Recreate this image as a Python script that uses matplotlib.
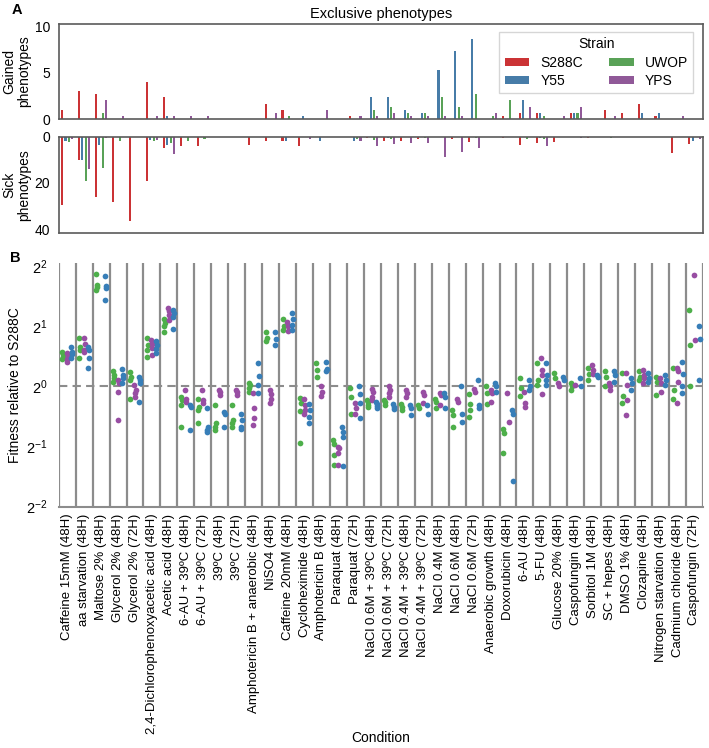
import matplotlib
matplotlib.use('Agg')
import matplotlib.pyplot as plt
import numpy as np
import seaborn as sns

plt.rcParams['font.family'] = ['Liberation Sans', 'DejaVu Sans']
plt.rcParams['font.size'] = 9.5

# Conditions (shared x axis for both panels)
conditions = ['Caffeine 15mM (48H)', 'aa starvation (48H)', 'Maltose 2% (48H)', 'Glycerol 2% (48H)',
              'Glycerol 2% (72H)', '2,4-Dichlorophenoxyacetic acid (48H)', 'Acetic acid (48H)',
              '6-AU + 39ºC (48H)', '6-AU + 39ºC (72H)', '39ºC (48H)', '39ºC (72H)',
              'Amphotericin B + anaerobic (48H)', 'NiSO4 (48H)', 'Caffeine 20mM (48H)',
              'Cycloheximide (48H)', 'Amphotericin B (48H)', 'Paraquat (48H)', 'Paraquat (72H)',
              'NaCl 0.6M + 39ºC (48H)', 'NaCl 0.6M + 39ºC (72H)', 'NaCl 0.4M + 39ºC (48H)',
              'NaCl 0.4M + 39ºC (72H)', 'NaCl 0.4M (48H)', 'NaCl 0.6M (48H)', 'NaCl 0.6M (72H)',
              'Anaerobic growth (48H)', 'Doxorubicin (48H)', '6-AU (48H)', '5-FU (48H)',
              'Glucose 20% (48H)', 'Caspofungin (48H)', 'Sorbitol 1M (48H)', 'SC + hepes (48H)',
              'DMSO 1% (48H)', 'Clozapine (48H)', 'Nitrogen starvation (48H)',
              'Cadmium chloride (48H)', 'Caspofungin (72H)']
strains = ['S288C', 'Y55', 'UWOP', 'YPS']

# Panel A: exclusive phenotypes per condition
gained_s288c = [1, 3, 2.67, 0, 0, 4, 2.33, 0, 0, 0, 0, 0, 1.67, 1, 0, 0, 0, 0.33, 0, 0,
                0, 0, 0, 0, 0, 0, 0.33, 0.67, 0.67, 0, 0.67, 0, 1, 0.67, 1.67, 0.33, 0, 0]
gained_y55 = [0, 0, 0, 0, 0, 0, 0.33, 0, 0, 0, 0, 0, 0, 0, 0.33, 0, 0, 0, 2.33, 2.33,
              1, 0.67, 5.33, 7.33, 8.67, 0, 0, 2, 0.67, 0, 0.67, 0, 0, 0, 0.67, 0.67, 0, 0]
gained_uwop = [0, 0, 0.67, 0, 0, 0, 0, 0, 0, 0, 0, 0, 0, 0.33, 0, 0, 0, 0, 1, 1.33,
               0.67, 0.67, 2.33, 1.33, 2.67, 0.33, 2, 0, 0.33, 0, 0.67, 0, 0, 0, 0, 0, 0, 0]
gained_yps = [0, 0, 2, 0.33, 0, 0.33, 0.33, 0.33, 0.33, 0, 0, 0, 0.67, 0, 0, 1, 0, 0.33, 0.33, 0.67,
              0.33, 0.33, 0.33, 0.33, 0, 0.67, 0, 1.33, 0, 0.33, 1.33, 0, 0.33, 0, 0, 0, 0.33, 0]

sick_s288c = [29.33, 10, 26, 28.33, 36.33, 19, 5, 4, 4, 0, 0, 3.67, 2, 1.67, 4, 0, 0, 0, 0.67, 2,
              1.67, 1, 0.33, 1, 2.33, 0, 0.67, 3.67, 2.67, 2.33, 0, 0.67, 0, 0, 0, 0, 7, 3]
sick_y55 = [2, 10, 3.67, 0.33, 0, 1.33, 3.67, 0, 0, 0.33, 0, 0, 0.33, 2, 0, 2, 0.33, 1.67, 0, 0.67,
            0, 0, 0, 0, 0, 0, 0, 0, 0.67, 0, 0, 0, 0, 0, 0.33, 0, 0, 2]
sick_uwop = [2.33, 19, 13.67, 2, 0.33, 1.67, 2.67, 1.67, 1, 0, 0.33, 0, 0.33, 0, 0, 0.33, 0, 1, 1.33, 1,
             0, 0.67, 0, 0.33, 0.67, 0, 0, 1, 1, 0, 0, 0, 0.67, 0, 0, 0, 0, 0]
sick_yps = [1, 14, 0.67, 0, 0, 1.33, 7.33, 0, 0, 0, 0.33, 0, 0.33, 0.33, 1, 0, 0.33, 2, 4, 3,
            2.67, 2.67, 8.67, 6.67, 5, 0.33, 0, 0, 4, 0, 0.67, 0.33, 0, 0, 0, 0, 0, 1]

# Panel B: log2 fitness relative to S288C (replicates per condition)
fit_uwop = [[0.58, 0.54, 0.49, 0.45], [0.80, 0.66, 0.61, 0.48], [1.88, 1.69, 1.65, 1.61],
            [0.25, 0.19, 0.14, 0.08], [0.24, 0.16, 0.11, -0.20], [0.81, 0.69, 0.61, 0.49],
            [1.13, 1.05, 1.0, 0.91], [-0.17, -0.22, -0.31, -0.67], [-0.20, -0.34, -0.39, -0.60],
            [-0.31, -0.61, -0.67, -0.72], [-0.31, -0.55, -0.61, -0.67], [0.06, 0.02, -0.03, -0.09],
            [0.90, 0.80, 0.75], [1.13, 1.0, 0.94], [-0.19, -0.28, -0.40, -0.94], [0.39, 0.27, 0.15],
            [-0.89, -0.96, -1.14, -1.31], [-0.03, -0.17, -0.45], [-0.22, -0.26, -0.30, -0.34],
            [-0.22, -0.26, -0.31], [-0.29, -0.34, -0.39], [-0.31, -0.36], [-0.20, -0.25, -0.36],
            [-0.39, -0.47, -0.67], [-0.12, -0.29, -0.39, -0.50], [0.0, -0.11, -0.29],
            [-0.70, -0.77, -1.11], [0.14, -0.03, -0.16], [0.39, 0.11, 0.02], [0.22, 0.14],
            [0.05, 0.0, -0.05], [0.30, 0.21, 0.10], [0.26, 0.15, 0.0], [0.22, -0.16, -0.28],
            [0.25, 0.16, 0.11], [0.16, 0.08, -0.14], [0.30, -0.06, -0.20], [1.28, 0.69, 0.01]]
fit_yps = [[0.55, 0.51, 0.45, 0.41], [0.80, 0.70, 0.61, 0.58], [],
           [0.11, 0.05, -0.09, -0.55], [0.02, -0.05, -0.11, -0.17], [0.77, 0.70, 0.64, 0.52],
           [1.30, 1.25, 1.19, 1.11], [-0.06, -0.20, -0.25], [-0.05, -0.22, -0.28],
           [-0.05, -0.09, -0.14], [-0.05, -0.09, -0.14], [-0.11, -0.36, -0.53, -0.64],
           [-0.06, -0.12, -0.20, -0.28], [1.08, 1.0, 0.92], [-0.20, -0.31, -0.39, -0.45],
           [0.0, -0.09, -0.16], [-1.0, -1.03, -1.11, -1.31], [-0.27, -0.36, -0.45],
           [-0.04, -0.09, -0.18, -0.22], [0.0, -0.06, -0.11, -0.17], [-0.06, -0.11, -0.17],
           [-0.09, -0.14, -0.28], [-0.11, -0.14, -0.31], [-0.20, -0.25], [-0.04, -0.09],
           [-0.06, -0.11, -0.25], [-0.11, -0.59], [-0.09, -0.28, -0.34], [0.47, 0.27, 0.19, -0.12],
           [0.05, 0.0], [0.02], [0.36, 0.27, 0.21], [0.05, 0.0, -0.06], [0.22, 0.02, -0.22, -0.47],
           [0.27, 0.19, 0.14, 0.05], [0.14, 0.05, -0.09], [0.30, 0.25, 0.08, -0.28], [1.86, 0.77]]
fit_y55 = [[0.65, 0.58, 0.54, 0.47], [0.66, 0.61, 0.48, 0.31], [1.84, 1.67, 1.64, 1.44],
           [0.29, 0.19, 0.14, 0.05], [0.16, 0.11, 0.05, -0.26], [0.75, 0.69, 0.62, 0.56],
           [1.27, 1.22, 1.16, 0.96], [-0.31, -0.34, -0.72], [-0.36, -0.67, -0.72, -0.75],
           [-0.42, -0.45, -0.67], [-0.45, -0.56, -0.67, -0.70], [0.39, 0.17, 0.02, -0.11],
           [0.91, 0.79, 0.69], [1.23, 1.13, 1.02, 0.94], [-0.29, -0.39, -0.50, -0.61],
           [0.40, 0.29, 0.25], [-0.67, -0.75, -0.84, -1.32], [0.0, -0.12, -0.28, -0.53],
           [-0.26, -0.29, -0.32, -0.35], [-0.29, -0.34, -0.38], [-0.31, -0.36, -0.47],
           [-0.31, -0.46], [-0.11, -0.17, -0.36], [0.0, -0.45, -0.59], [0.11, -0.31, -0.36],
           [0.05, 0.0, -0.09], [-0.39, -0.46, -1.58], [0.11, 0.0, -0.06], [0.39, 0.19, 0.11, 0.02],
           [0.16, 0.11], [0.14, 0.0], [0.19, 0.16], [0.25, 0.19, 0.08], [0.14, 0.05, -0.06],
           [0.22, 0.14, 0.08], [0.19, 0.11, 0.02], [0.40, 0.21, 0.0, -0.11], [1.0, 0.79, 0.10]]

# colours (Set1), bars desaturated like seaborn barplot
pal = sns.color_palette('Set1', 4)
colors = {'S288C': pal[0], 'Y55': pal[1], 'UWOP': pal[2], 'YPS': pal[3]}
bar_colors = {k: sns.desaturate(v, 0.75) for k, v in colors.items()}
spine_col = '#5a5a5a'

fig = plt.figure(figsize=(7.09, 7.48), dpi=100)
ax_g = fig.add_axes([0.0828, 0.8409, 0.9087, 0.1270])
ax_s = fig.add_axes([0.0828, 0.6889, 0.9087, 0.1283])
ax_b = fig.add_axes([0.0828, 0.3226, 0.9087, 0.3262])

x = np.arange(len(conditions))
offsets = [-0.3, -0.1, 0.1, 0.3]
bw = 0.12
gained = [gained_s288c, gained_y55, gained_uwop, gained_yps]
sick = [sick_s288c, sick_y55, sick_uwop, sick_yps]
for i, s in enumerate(strains):
    ax_g.bar(x + offsets[i], gained[i], width=bw, color=bar_colors[s], label=s)
    ax_s.bar(x + offsets[i], sick[i], width=bw, color=bar_colors[s])

for ax in (ax_g, ax_s):
    ax.set_xlim(-0.5, len(conditions) - 0.5)
    ax.set_xticks([])
    ax.tick_params(axis='y', length=0, pad=6, labelsize=10)
    for sp in ax.spines.values():
        sp.set_color(spine_col)
        sp.set_linewidth(1.2)

ax_g.set_ylim(0, 10.25)
ax_g.set_yticks([0, 5, 10])
ax_g.set_ylabel('Gained\nphenotypes', fontsize=10, linespacing=1.1)
ax_g.yaxis.set_label_coords(-0.042, 0.5)
ax_g.set_title('Exclusive phenotypes', fontsize=10.5, pad=4)
leg = ax_g.legend(title='Strain', ncol=2, loc='upper right', fontsize=10, title_fontsize=10,
                  handlelength=1.75, handleheight=0.5, handletextpad=0.8, columnspacing=1.9,
                  borderpad=0.4, labelspacing=0.3, fancybox=False, bbox_to_anchor=(0.996, 0.99))
leg.get_frame().set_edgecolor('#cccccc')

ax_s.set_ylim(41.5, 0)
ax_s.set_yticks([0, 20, 40])
ax_s.set_ylabel('Sick\nphenotypes', fontsize=10, linespacing=1.1)
ax_s.yaxis.set_label_coords(-0.042, 0.5)

# Panel B strip plot
dodge = {'UWOP': -0.267, 'YPS': 0.0, 'Y55': 0.267}
fits = {'UWOP': fit_uwop, 'YPS': fit_yps, 'Y55': fit_y55}
jitter = [-0.03, 0.03, 0.0, -0.015, 0.015]
for s in ['UWOP', 'YPS', 'Y55']:
    xs, ys = [], []
    for ci, vals in enumerate(fits[s]):
        for k, v in enumerate(vals):
            xs.append(ci + dodge[s] + jitter[k % len(jitter)])
            ys.append(2.0 ** v)
    ax_b.scatter(xs, ys, s=17, color=colors[s], linewidths=0, zorder=3)

for b in np.arange(len(conditions) + 1) - 0.5:
    ax_b.axvline(b, color='#8c8c8c', lw=1.6, zorder=1)
ax_b.axhline(1, color='#8c8c8c', lw=1.5, ls=(0, (4, 2.5)), zorder=2)

ax_b.set_yscale('log', base=2)
ax_b.set_ylim(2 ** -2, 2 ** 2.06)
ax_b.set_yticks([2 ** -2, 2 ** -1, 2 ** 0, 2 ** 1, 2 ** 2])
ax_b.minorticks_off()
ax_b.set_xlim(-0.5, len(conditions) - 0.5)
ax_b.set_xticks(x)
ax_b.set_xticklabels(conditions, rotation=90, fontsize=9.5)
ax_b.tick_params(length=0, pad=5)
ax_b.tick_params(axis='y', labelsize=10.5, pad=8)
for k in ['top', 'left', 'right']:
    ax_b.spines[k].set_visible(False)
ax_b.spines['bottom'].set_color('#8c8c8c')
ax_b.spines['bottom'].set_linewidth(1.5)
ax_b.set_ylabel('Fitness relative to S288C', fontsize=10)
ax_b.yaxis.set_label_coords(-0.057, 0.5)
ax_b.set_xlabel('Condition', fontsize=10)
ax_b.xaxis.set_label_coords(0.5, -0.92)

fig.text(12 / 709, 1 - 10 / 748, 'A', fontsize=10.5, fontweight='bold', ha='left', va='center')
fig.text(10 / 709, 1 - 258 / 748, 'B', fontsize=10.5, fontweight='bold', ha='left', va='center')

fig.savefig('out.png', dpi=100)
